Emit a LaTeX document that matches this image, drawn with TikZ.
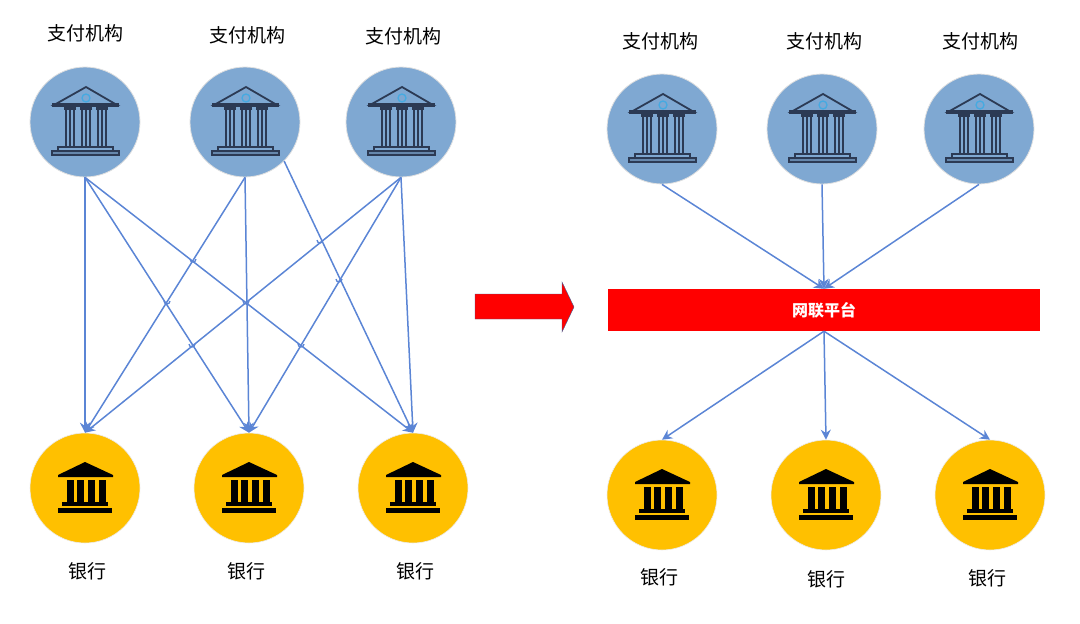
\documentclass[tikz,border=0pt]{standalone}
\usepackage{fontspec}
\setmainfont{Noto Sans CJK SC}
\usetikzlibrary{arrows.meta}
\definecolor{paybluea}{RGB}{127, 168, 210}
\definecolor{wireblue}{RGB}{91, 133, 213}
\definecolor{bankgold}{RGB}{255, 192, 0}
\definecolor{templeink}{RGB}{44, 58, 84}
\definecolor{templecyan}{RGB}{70, 170, 225}
\tikzset{
    paynode/.style={circle, fill=paybluea, draw=black!12, line width=0.8pt, minimum size=110pt, inner sep=0pt},
    banknode/.style={circle, fill=bankgold, draw=black!8, line width=0.6pt, minimum size=110pt, inner sep=0pt},
    lbl/.style={font=\fontsize{19}{23}\selectfont, inner sep=0pt},
    wire/.style={draw=wireblue, line width=1.5pt, -{Stealth[length=10pt,width=10pt]}},
    hop/.style={draw=wireblue, line width=1.3pt},
    templeicon/.pic={
        \draw[templeink, line width=1.8pt, fill=paybluea] (-31,-17) -- (1,-35) -- (32,-17) -- cycle;
        \draw[templecyan, line width=1.3pt] (1,-24) circle (4);
        \fill[templeink] (-33,-19) rectangle (34,-15);
        \foreach \cx in {-15,1,17} {
            \draw[templeink, line width=1.7pt] (\cx-4,-13) rectangle (\cx+4,25);
            \draw[templeink, line width=1.6pt] (\cx,-13) -- (\cx,25);
            \fill[templeink] (\cx-6,-15) rectangle (\cx+6,-12);
        }
        \draw[templeink, line width=1.5pt] (-27,25) rectangle (28,29);
        \draw[templeink, line width=1.6pt, fill=paybluea!70!templeink] (-33,29) rectangle (34,33);
    },
    bankicon/.pic={
        \fill[black] (-27,-13) -- (0,-26) -- (28,-13) -- (28,-11) -- (-27,-11) -- cycle;
        \foreach \cx in {-15,-5,6,17} {
            \fill[black] (\cx-3.5,-8) rectangle (\cx+3.5,14);
        }
        \fill[black] (-23,14) rectangle (23,18);
        \fill[black] (-27,20) rectangle (27,25);
    }
}

\begin{document}
\begin{tikzpicture}[x=1pt, y=-1pt]
    \useasboundingbox (0,0) rectangle (1080,624);

    % left side
    \node[paynode] (paya) at (85,122) {};
    \node[paynode] (payb) at (245,122) {};
    \node[paynode] (payc) at (401,122) {};
    \node[banknode] (banka) at (85,488) {};
    \node[banknode] (bankb) at (249,488) {};
    \node[banknode] (bankc) at (413,488) {};

    \node[lbl] (tpaya) at (85.5,33) {支付机构};
    \node[lbl] (tpayb) at (247,35) {支付机构};
    \node[lbl] (tpayc) at (403,36) {支付机构};
    \node[lbl] (tbanka) at (87,571) {银行};
    \node[lbl] (tbankb) at (246,571) {银行};
    \node[lbl] (tbankc) at (415,571) {银行};

    \foreach \p in {paya,payb,payc} \pic at (\p) {templeicon};
    \foreach \b in {banka,bankb,bankc} \pic at (\b) {bankicon};

    \foreach \b in {banka,bankb,bankc} {
        \draw[wire] (paya.south) -- (\b.north);
        \draw[wire] (payc.south) -- (\b.north);
    }
    \draw[wire] (payb.south) -- (banka.north);
    \draw[wire] (payb.south) -- (bankb.north);
    \draw[wire] (payb.-45) -- (bankc.north);

    % line hops at the crossings
    \foreach \hx/\hy in {193/258, 167/300, 246/300, 192/343, 320/239, 339/278, 301/343} {
        \draw[hop] (\hx-3,\hy+1) arc (180:0:3);
    }

    % middle arrow
    \filldraw[fill=red, draw=wireblue!70!black, line width=0.4pt] (475,294) -- (562,294) -- (562,282) -- (574,307) -- (562,332) -- (562,319) -- (475,319) -- cycle;

    % right side
    \node[paynode] (payd) at (662,129) {};
    \node[paynode] (paye) at (822,129) {};
    \node[paynode] (payf) at (979,129) {};
    \node[banknode] (bankd) at (662,495) {};
    \node[banknode] (banke) at (826,495) {};
    \node[banknode] (bankf) at (990,495) {};
    \node[fill=red, minimum width=432pt, minimum height=42pt, inner sep=0pt, text=white, font=\fontsize{16}{19}\selectfont\bfseries] (plat) at (824,310) {网联平台};

    \node[lbl] (tpayd) at (660,41) {支付机构};
    \node[lbl] (tpaye) at (824,41) {支付机构};
    \node[lbl] (tpayf) at (980,41) {支付机构};
    \node[lbl] (tbankd) at (659,577) {银行};
    \node[lbl] (tbanke) at (826,579) {银行};
    \node[lbl] (tbankf) at (987,578) {银行};

    \foreach \p in {payd,paye,payf} {
        \pic at (\p) {templeicon};
        \draw[wire] (\p.south) -- (plat.north);
    }
    \foreach \b in {bankd,banke,bankf} {
        \pic at (\b) {bankicon};
        \draw[wire] (plat.south) -- (\b.north);
    }
\end{tikzpicture}
\end{document}
